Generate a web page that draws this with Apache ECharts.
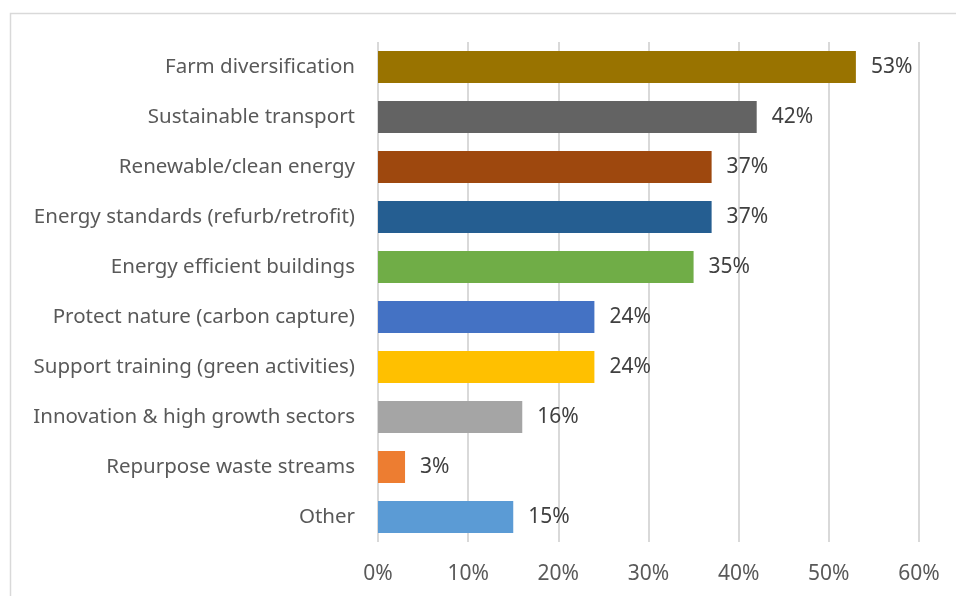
<!DOCTYPE html>
<html>
<head>
<meta charset="utf-8">
<script src="https://cdn.jsdelivr.net/npm/echarts@6/dist/echarts.min.js"></script>
<style>
  html, body { margin: 0; padding: 0; background: #fff; }
  #chart { width: 956px; height: 596px; }
</style>
</head>
<body>
<div id="chart"></div>
<script>
// Survey priorities, share of respondents (%)
const categories = [
  'Farm diversification',
  'Sustainable transport',
  'Renewable/clean energy',
  'Energy standards (refurb/retrofit)',
  'Energy efficient buildings',
  'Protect nature (carbon capture)',
  'Support training (green activities)',
  'Innovation & high growth sectors',
  'Repurpose waste streams',
  'Other'
];
const values = [53, 42, 37, 37, 35, 24, 24, 16, 3, 15];
const barColors = [
  '#997300', '#636363', '#9E480E', '#255E91', '#70AD47',
  '#4472C4', '#FFC000', '#A5A5A5', '#ED7D31', '#5B9BD5'
];
const axisMin = 0;
const axisMax = 60;
const axisStep = 10;

const chart = echarts.init(document.getElementById('chart'), null, { renderer: 'canvas' });
const font = 'Noto Sans, sans-serif';

chart.setOption({
  animation: false,
  backgroundColor: '#ffffff',
  graphic: [{
    type: 'rect',
    left: 8, top: 11,
    shape: { width: 1200, height: 1000 },
    style: { fill: 'none', stroke: '#d9d9d9', lineWidth: 1.5 },
    silent: true, z: -1
  }],
  grid: { left: 378, right: 37, top: 42, bottom: 54, containLabel: false },
  xAxis: {
    type: 'value',
    min: axisMin, max: axisMax, interval: axisStep,
    axisLine: { show: false },
    axisTick: { show: false },
    splitLine: { show: true, lineStyle: { color: '#d9d9d9', width: 2 } },
    axisLabel: {
      formatter: v => v + '%',
      color: '#595959', fontFamily: font, fontSize: 21, margin: 22
    }
  },
  yAxis: {
    type: 'category',
    data: categories,
    inverse: true,
    axisLine: { show: false },
    axisTick: { show: false },
    axisLabel: { color: '#595959', fontFamily: font, fontSize: 20.5, margin: 23 }
  },
  series: [{
    type: 'bar',
    data: values.map((v, i) => ({ value: v, itemStyle: { color: barColors[i] } })),
    barWidth: 32,
    label: {
      show: true, position: 'right', distance: 15,
      formatter: p => p.value + '%',
      color: '#404040', fontFamily: font, fontSize: 21
    }
  }]
});
</script>
</body>
</html>
